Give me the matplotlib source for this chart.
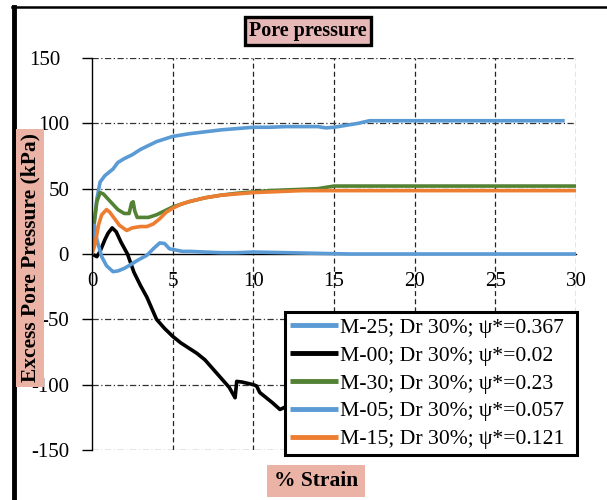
import matplotlib.pyplot as plt
from matplotlib.lines import Line2D
from matplotlib.transforms import ScaledTranslation

plt.rcParams['font.family'] = ['Liberation Serif', 'DejaVu Serif']
plt.rcParams['axes.unicode_minus'] = False

# series (strain %, excess pore pressure kPa)
m25_x = [0, 0.1, 0.3, 0.5, 0.8, 1.0, 1.3, 1.6, 2.0, 2.5, 3.0, 3.5, 4.0, 5.0, 6.0, 7.0, 8.0, 9.0,
         10.0, 11.0, 12.0, 13.0, 14.0, 14.5, 15.0, 15.5, 16.0, 16.5, 17.2, 18, 20, 25, 29.3]
m25_y = [0, 20, 42, 55, 60, 62, 65, 70, 73, 76, 80, 83, 86, 90, 92, 93.5, 95, 96, 97,
         97, 97.5, 97.5, 97.5, 96.5, 97, 98, 99, 100, 102, 102, 102, 102, 102]

m00_x = [0, 0.3, 0.5, 0.8, 1.0, 1.25, 1.5, 1.8, 2.2, 2.6, 3.0, 3.4, 4.0, 4.5, 5.0, 5.5, 6.0,
         6.5, 7.0, 7.5, 8.0, 8.5, 8.87, 8.97, 9.3, 10.0, 10.2, 10.4, 10.8, 11.2, 11.65, 12.0, 12.2]
m00_y = [0, -2, 2, 11, 16, 20, 17, 9, 0, -14, -24, -33, -50, -57, -63, -68, -72,
         -76, -81, -88, -95, -102, -110, -97.5, -98, -100, -101, -106, -110, -114, -119, -117, -118]

m30_x = [0, 0.15, 0.3, 0.5, 0.7, 1.0, 1.3, 1.6, 2.0, 2.3, 2.45, 2.55, 2.65, 2.8, 3.0, 3.5, 4.0,
         4.5, 5.0, 6.0, 7.0, 8.0, 9.0, 10.0, 11.0, 12.0, 13.0, 14.0, 14.5, 15.0, 16, 20, 25, 30]
m30_y = [0, 25, 40, 47, 46, 42, 38, 34, 31, 31, 39, 40, 33, 28, 28, 28, 30,
         33, 36, 40, 43, 45, 46.5, 47.5, 48.5, 49, 49.5, 50, 51, 52, 52, 52, 52, 52]

m05_x = [0, 0.05, 0.15, 0.3, 0.6, 0.9, 1.3, 1.6, 2.0, 2.35, 2.8, 3.4, 3.8, 4.2, 4.5, 4.8, 5.2,
         5.6, 6.1, 7.0, 8.0, 9.0, 10.0, 12, 14, 16, 20, 25, 30]
m05_y = [0, 15, 22, 11, -2, -9, -13.5, -13, -11, -8.5, -5, -1, 4, 8.5, 8, 4, 3,
         2, 2, 1.5, 1, 1, 1.5, 1, 0.5, 0, 0, 0, 0]

m15_x = [0, 0.2, 0.4, 0.6, 0.9, 1.1, 1.4, 1.7, 2.15, 2.5, 3.0, 3.4, 3.8, 4.2, 4.6, 5.0, 5.5,
         6.0, 7.0, 8.0, 9.0, 10.0, 11.0, 12.0, 13.0, 14, 16, 20, 25, 30]
m15_y = [0, 8, 22, 30, 34, 32, 27, 22, 18, 20, 21, 21, 23, 27, 32, 35, 38,
         40, 43, 45, 46, 47, 47.5, 48, 48.5, 48.5, 48.5, 48.5, 48.5, 48.5]

labels = ['M-25; Dr 30%; ψ*=0.367', 'M-00; Dr 30%; ψ*=0.02', 'M-30; Dr 30%; ψ*=0.23',
          'M-05; Dr 30%; ψ*=0.057', 'M-15; Dr 30%; ψ*=0.121']
colors = ['#5b9bd5', '#000000', '#548235', '#5b9bd5', '#ed7d31']

xticks = [0, 5, 10, 15, 20, 25, 30]
yticks = [-150, -100, -50, 0, 50, 100, 150]

fig = plt.figure(figsize=(6.07, 5.0), dpi=100)
ax = fig.add_axes([92 / 607, 1 - 450 / 500, 484 / 607, 392 / 500])

series = [(m25_x, m25_y), (m00_x, m00_y), (m30_x, m30_y), (m05_x, m05_y), (m15_x, m15_y)]
for (xs, ys), c, lab in zip(series, colors, labels):
    ax.plot(xs, ys, color=c, lw=2.6, label=lab, solid_capstyle='butt')

ax.set_xlim(0, 30)
ax.set_ylim(-150, 150)
ax.set_xticks(xticks)
ax.set_yticks(yticks)

# grid: dashed verticals, dash-dot horizontals
for xv in xticks[1:]:
    ax.axvline(xv, color='#222222', lw=0.9, ls=(0, (4, 2.5)), zorder=0)
for yv in yticks:
    if yv != 0:
        ax.axhline(yv, color='#333333', lw=0.9, ls=(0, (5, 2, 1, 2)), zorder=0)

for s in ['top', 'right']:
    ax.spines[s].set_visible(False)
ax.spines['bottom'].set_position(('data', 0))
ax.spines['bottom'].set_linewidth(1.0)
ax.spines['left'].set_linewidth(1.0)
ax.spines['bottom'].set_zorder(0.5)

ax.tick_params(axis='x', length=0, pad=13, labelsize=15)
ax.tick_params(axis='y', length=7, width=1, direction='out', pad=9.5, labelsize=15)

# the "150" label sits a little further left in the reference
top_lab = ax.get_yticklabels()[-1]
top_lab.set_transform(top_lab.get_transform() + ScaledTranslation(-9 / 100, 0, fig.dpi_scale_trans))

leg = ax.legend(loc='upper left', bbox_to_anchor=(285 / 607, 1 - 448 / 500, 292 / 607, 136 / 500),
                bbox_transform=fig.transFigure, mode='expand', borderaxespad=0, fontsize=15.6,
                frameon=True, fancybox=False, framealpha=1, edgecolor='black',
                handlelength=2.2, handletextpad=0.1, labelspacing=0.36,
                borderpad=0.25)
leg.get_frame().set_linewidth(2.2)
for h in leg.get_lines():
    h.set_linewidth(3.5)

fig.text(308 / 607, 1 - 31 / 500, 'Pore pressure', ha='center', va='center',
         fontsize=14.5, fontweight='bold',
         bbox=dict(boxstyle='square,pad=0.22', facecolor='#e6b8b7', edgecolor='black', lw=2.4))

fig.text(30 / 607, 1 - 258 / 500, 'Excess Pore Pressure (kPa)', rotation=90,
         ha='center', va='center', fontsize=15.5, fontweight='bold',
         bbox=dict(boxstyle='square,pad=0.2', facecolor='#eab3a5', edgecolor='none'))

fig.text(316 / 607, 1 - 481 / 500, '% Strain', ha='center', va='center',
         fontsize=15.5, fontweight='bold',
         bbox=dict(boxstyle='square,pad=0.3', facecolor='#eab3a5', edgecolor='none'))

# outer frame lines (top and left)
fig.add_artist(Line2D([12 / 607, 1], [1 - 7 / 500, 1 - 7 / 500], color='black', lw=1.8,
                      transform=fig.transFigure))
fig.add_artist(Line2D([13.5 / 607, 13.5 / 607], [0, 1 - 7 / 500], color='black', lw=3.5,
                      transform=fig.transFigure))

fig.savefig('out.png', dpi=100)
